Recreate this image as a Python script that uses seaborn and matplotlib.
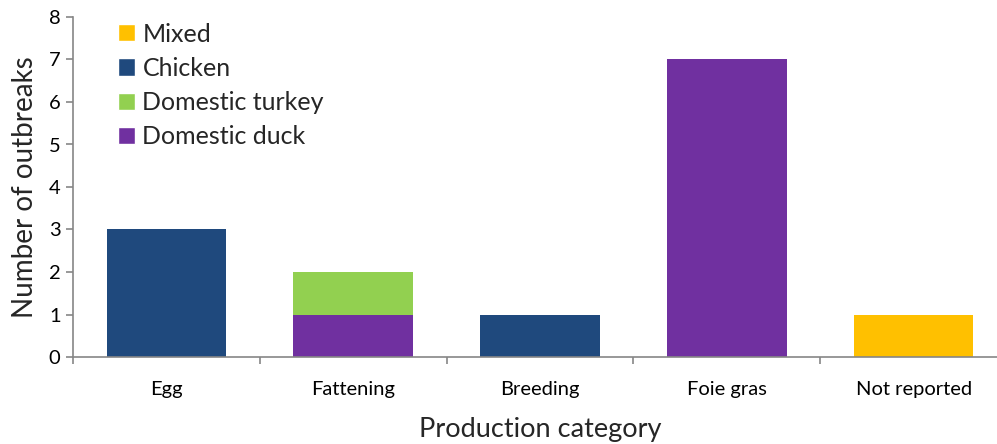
import matplotlib
matplotlib.use('Agg')
from matplotlib import pyplot as plt
from matplotlib.patches import Patch
from matplotlib.ticker import FixedLocator
import seaborn as sns
import numpy as np
import pandas as pd

categories = ['Egg', 'Fattening', 'Breeding', 'Foie gras', 'Not reported']
mixed = [0, 0, 0, 0, 1]
chicken = [3, 0, 1, 0, 0]
turkey = [0, 1, 0, 0, 0]
duck = [0, 1, 0, 7, 0]

colors = {'Mixed': '#FFC000', 'Chicken': '#1F497D',
          'Domestic turkey': '#92D050', 'Domestic duck': '#7030A0'}

sns.set_style('white')
plt.rcParams['font.family'] = ['Lato', 'DejaVu Sans']

# stack bottom -> top: duck, turkey, chicken, mixed
layers = [('Domestic duck', duck), ('Domestic turkey', turkey),
          ('Chicken', chicken), ('Mixed', mixed)]
cum = np.cumsum([np.array(v) for _, v in layers], axis=0)

fig = plt.figure(figsize=(9.97, 4.44), dpi=100)
ax = fig.add_axes([73 / 997, 87 / 444, 934 / 997, 340 / 444])

# draw cumulative totals from the top layer down so lower layers overlay
for i in range(len(layers) - 1, -1, -1):
    name = layers[i][0]
    df = pd.DataFrame({'cat': categories, 'val': cum[i]})
    sns.barplot(data=df, x='cat', y='val', color=colors[name],
                saturation=1, width=0.64, ax=ax, edgecolor='none')

ax.set_ylim(0, 8)
ax.set_xlim(-0.5, 4.5)
ax.set_yticks(range(0, 9))
ax.set_xlabel('Production category', fontsize=19.5, labelpad=14)
ax.set_ylabel('Number of outbreaks', fontsize=20, labelpad=8)
ax.tick_params(axis='both', labelsize=14.5, length=0, colors='black')
ax.tick_params(axis='x', pad=17)
ax.tick_params(axis='y', pad=4)
ax.xaxis.set_minor_locator(FixedLocator(np.arange(-0.5, 5, 1)))
ax.tick_params(axis='x', which='minor', length=5, color='#868686', width=1.2, direction='out', bottom=True)
ax.tick_params(axis='y', which='major', length=5, color='#868686', width=1.2, direction='out', left=True)

for s in ['top', 'right']:
    ax.spines[s].set_visible(False)
for s in ['left', 'bottom']:
    ax.spines[s].set_color('#868686')
    ax.spines[s].set_linewidth(1.2)

order = ['Mixed', 'Chicken', 'Domestic turkey', 'Domestic duck']
handles = [Patch(facecolor=colors[n], label=n) for n in order]
ax.legend(handles=handles, loc='upper left', bbox_to_anchor=(0.024, 1.05),
          frameon=False, fontsize=18, handlelength=0.68, handleheight=0.68,
          handletextpad=0.3, labelspacing=0.45)

fig.savefig('out.png', dpi=100)
